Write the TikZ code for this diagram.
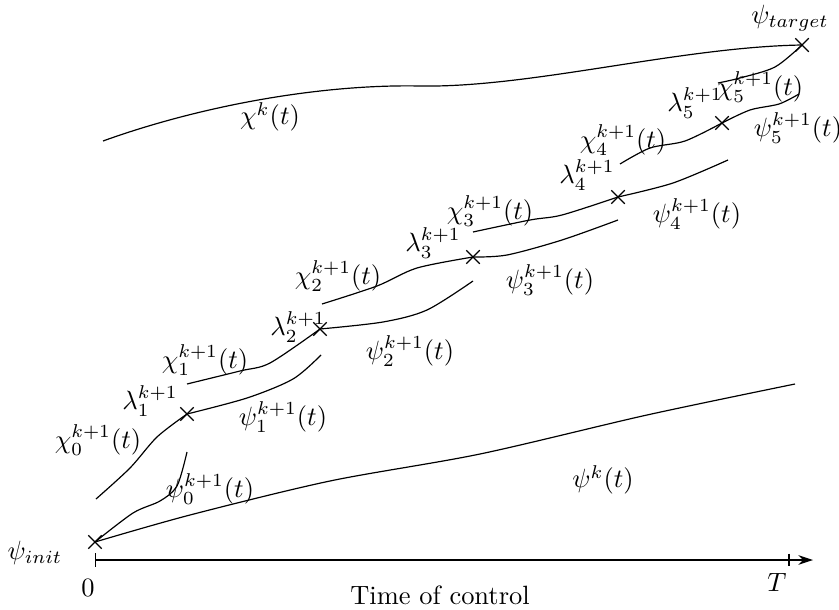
\documentclass[tikz,border=0pt]{standalone}
\usetikzlibrary{shapes.misc,arrows.meta}
\begin{document}
\begin{tikzpicture}[x=0.378pt,y=-0.378pt,
  crossmark/.style={draw,cross out,minimum size=4.6pt,inner sep=0pt,line width=0.5pt},
  traj/.style={line width=0.45pt},
  lbl/.style={inner sep=0pt}]
\useasboundingbox (0,0) rectangle (839,610);

% crossing points
\node[crossmark] (pinit) at (95,542) {};
\node[crossmark] (l1) at (187,414) {};
\node[crossmark] (l2) at (320,329) {};
\node[crossmark] (l3) at (473,257) {};
\node[crossmark] (l4) at (618,197) {};
\node[crossmark] (l5) at (722,123) {};
\node[crossmark] (ptgt) at (802,45) {};

% free ends
\coordinate (psikE) at (795,384);
\coordinate (psi0E) at (187,452);
\coordinate (chi0S) at (96,499);
\coordinate (psi1E) at (321,355);
\coordinate (chi1S) at (187,384);
\coordinate (psi2E) at (473,281);
\coordinate (chi2S) at (322,304);
\coordinate (psi3E) at (618,220);
\coordinate (chi3S) at (473,232);
\coordinate (psi4E) at (728,160);
\coordinate (chi4S) at (620,164);
\coordinate (psi5E) at (799,94);
\coordinate (chi5S) at (718,83);
\coordinate (chikS) at (103,141);

% trajectories
\draw[traj] plot[smooth] coordinates {(pinit.center) (190,515) (330,481) (480,454) (647,415) (psikE)};
\draw[traj] plot[smooth] coordinates {(pinit.center) (133,513) (160,501) (177,486) (psi0E)};
\draw[traj] plot[smooth] coordinates {(chi0S) (130,468) (157,437) (l1.center)};
\draw[traj] plot[smooth] coordinates {(l1.center) (247,398) (293,379) (psi1E)};
\draw[traj] plot[smooth] coordinates {(chi1S) (240,371) (270,363) (l2.center)};
\draw[traj] plot[smooth] coordinates {(l2.center) (383,322) (427,310) (psi2E)};
\draw[traj] plot[smooth] coordinates {(chi2S) (377,286) (417,268) (l3.center)};
\draw[traj] plot[smooth] coordinates {(l3.center) (507,255) (562,240) (psi3E)};
\draw[traj] plot[smooth] coordinates {(chi3S) (530,220) (562,215) (l4.center)};
\draw[traj] plot[smooth] coordinates {(l4.center) (673,183) (psi4E)};
\draw[traj] plot[smooth] coordinates {(chi4S) (650,148) (685,141) (l5.center)};
\draw[traj] plot[smooth] coordinates {(l5.center) (750,110) (779,104) (psi5E)};
\draw[traj] plot[smooth] coordinates {(chi5S) (740,78) (775,67) (ptgt.center)};
\draw[traj] (chikS) .. controls (200,106) and (320,84) .. (420,86)
  .. controls (530,88) and (680,47) .. (ptgt.center);

% time axis
\coordinate (a0) at (95,560);
\coordinate (aend) at (813,560);
\coordinate (tT) at (789,560);
\draw[line width=0.45pt,{Bar[width=5pt]}-{Stealth[length=5.5pt,width=3.6pt]}] (a0) -- (aend);
\draw[line width=0.45pt] ([yshift=2.4pt]tT) -- ([yshift=-2.4pt]tT);

% labels
\node[lbl] (Lpinit) at (35,553) {$\psi_{init}$};
\node[lbl] (Lptgt) at (790,18) {$\psi_{target}$};
\node[lbl] (L0) at (88,588) {$0$};
\node[lbl] (LT) at (777,582) {$T$};
\node[lbl] (Ltime) at (440,595) {Time of control};
\node[lbl] (Lchik) at (270,117) {$\chi^k(t)$};
\node[lbl] (Lpsik) at (603,480) {$\psi^k(t)$};
\node[lbl] (Lchi0) at (98,440) {$\chi_0^{k+1}(t)$};
\node[lbl] (Lpsi0) at (210,489) {$\psi_0^{k+1}(t)$};
\node[lbl] (Llam1) at (150,401) {$\lambda_1^{k+1}$};
\node[lbl] (Lpsi1) at (283,417) {$\psi_1^{k+1}(t)$};
\node[lbl] (Lchi1) at (205,360) {$\chi_1^{k+1}(t)$};
\node[lbl] (Llam2) at (298,327) {$\lambda_2^{k+1}$};
\node[lbl] (Lchi2) at (338,276) {$\chi_2^{k+1}(t)$};
\node[lbl] (Lpsi2) at (410,351) {$\psi_2^{k+1}(t)$};
\node[lbl] (Llam3) at (433,243) {$\lambda_3^{k+1}$};
\node[lbl] (Lchi3) at (490,211) {$\chi_3^{k+1}(t)$};
\node[lbl] (Lpsi3) at (550,280) {$\psi_3^{k+1}(t)$};
\node[lbl] (Llam4) at (587,175) {$\lambda_4^{k+1}$};
\node[lbl] (Lchi4) at (623,140) {$\chi_4^{k+1}(t)$};
\node[lbl] (Lpsi4) at (697,214) {$\psi_4^{k+1}(t)$};
\node[lbl] (Llam5) at (695,103) {$\lambda_5^{k+1}$};
\node[lbl] (Lchi5) at (760,87) {$\chi_5^{k+1}(t)$};
\node[lbl] (Lpsi5) at (798,128) {$\psi_5^{k+1}(t)$};
\end{tikzpicture}
\end{document}
